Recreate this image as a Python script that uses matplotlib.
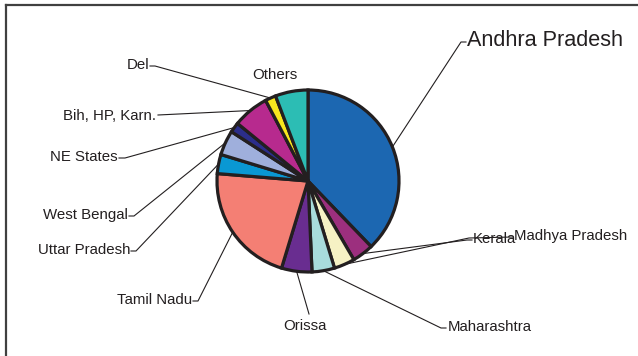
import matplotlib
matplotlib.use('Agg')
import matplotlib.pyplot as plt
from matplotlib.lines import Line2D
import numpy as np

plt.rcParams['font.family'] = ['Liberation Sans', 'DejaVu Sans']

# ---- data ----
states = ['Andhra Pradesh', 'Kerala', 'Madhya Pradesh', 'Maharashtra', 'Orissa',
          'Tamil Nadu', 'Uttar Pradesh', 'West Bengal', 'NE States',
          'Bih, HP, Karn.', 'Del', 'Others']
shares = [37.8, 3.8, 3.7, 4.0, 5.4, 21.6, 3.4, 4.4, 1.8, 6.4, 1.9, 5.8]
colors = ['#1c67b1', '#9c2f7e', '#f6f2c4', '#a8dcdc', '#692d90', '#f47f74',
          '#0a98d3', '#9fafdc', '#2c2e8b', '#b72a8e', '#f8e71e', '#2cbdb4']

# ---- layout (pixels) ----
W, H = 638, 356
CX, CY, R = 308, 181, 91
INK = '#231f20'

fig = plt.figure(figsize=(W / 100, H / 100), dpi=100)
ax = fig.add_axes([0, 0, 1, 1])

wedges, _ = ax.pie(shares, colors=colors, startangle=90, counterclock=False,
                   radius=1, center=(0, 0), frame=False,
                   wedgeprops=dict(edgecolor=INK, linewidth=2.3, joinstyle='miter'))
ax.set_aspect('auto')
ax.set_xlim(-CX / R, (W - CX) / R)
ax.set_ylim(-(H - CY) / R, CY / R)
ax.axis('off')


def P(x, y):
    return (x - CX) / R, (CY - y) / R


# label placement: text x, text y, ha, path of leader (pixel points) ending at wedge
labels = {
    'Andhra Pradesh': dict(xy=(467, 41), ha='left', path=[(466, 42), (461, 42)], size=15.6),
    'Kerala': dict(xy=(473, 239), ha='left', path=[(472, 240), (467, 240)]),
    'Madhya Pradesh': dict(xy=(514, 236), ha='left', path=[(513, 237), (469, 238)]),
    'Maharashtra': dict(xy=(448, 327), ha='left', path=[(446, 328), (441, 328)]),
    'Orissa': dict(xy=(305, 326), ha='center', path=[(309, 314)]),
    'Tamil Nadu': dict(xy=(192, 300), ha='right', path=[(193, 301), (198, 301)]),
    'Uttar Pradesh': dict(xy=(130, 250), ha='right', path=[(131, 251), (136, 251)]),
    'West Bengal': dict(xy=(128, 215), ha='right', path=[(129, 216), (134, 216)]),
    'NE States': dict(xy=(118, 157), ha='right', path=[(119, 158), (125, 158)]),
    'Bih, HP, Karn.': dict(xy=(156, 116), ha='right', path=[(158, 115)]),
    'Del': dict(xy=(149, 65), ha='right', path=[(150, 66), (155, 66)]),
    'Others': dict(xy=(275, 75), ha='center', path=None),
}

total = sum(shares)
cum = 0.0
for name, s in zip(states, shares):
    mid = np.deg2rad(90 - 360 * (cum + s / 2) / total)
    cum += s
    cfg = labels[name]
    tx, ty = P(*cfg['xy'])
    ax.text(tx, ty, name, ha=cfg['ha'], va='center', color=INK,
            fontsize=cfg.get('size', 10.8))
    if cfg['path']:
        pts = [P(*p) for p in cfg['path']] + [(np.cos(mid), np.sin(mid))]
        xs, ys = zip(*pts)
        ax.plot(xs, ys, color=INK, lw=0.8, solid_joinstyle='miter')

# partial frame (left and top edges)
fig.add_artist(Line2D([6 / W, 6 / W], [0, 1 - 5 / H], transform=fig.transFigure,
                      color='#404040', lw=1.6))
fig.add_artist(Line2D([6 / W, 1], [1 - 5 / H, 1 - 5 / H], transform=fig.transFigure,
                      color='#404040', lw=1.6))

fig.savefig('out.png', dpi=100, facecolor='white')
